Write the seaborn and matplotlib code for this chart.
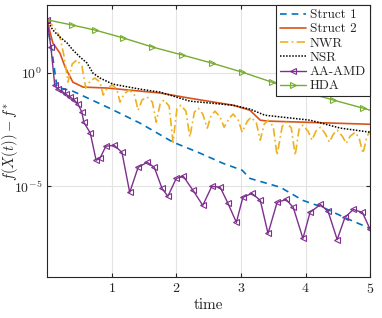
import numpy as np
import pandas as pd
import seaborn as sns
import matplotlib
matplotlib.use("Agg")
import matplotlib.pyplot as plt

# values (exponents of f(X(t)) - f*)
t_s1 = [0, 0.08, 0.155, 0.40, 0.93, 1.44, 1.95, 2.34, 2.72, 3.02, 3.14, 3.61, 3.96, 4.27, 4.64, 5.0]
e_s1 = [2.26, 0.88, -0.62, -0.80, -1.50, -2.21, -3.05, -3.50, -3.98, -4.29, -4.65, -5.04, -5.62, -5.93, -6.42, -6.86]

t_s2 = [0, 0.09, 0.20, 0.28, 0.40, 0.56, 0.93, 1.75, 2.21, 2.88, 3.14, 3.30, 3.42, 5.0]
e_s2 = [2.35, 1.33, 0.88, 0.27, -0.40, -0.62, -0.66, -0.88, -1.11, -1.42, -1.64, -2.08, -2.12, -2.26]

t_nwr = [0, 0.12, 0.20, 0.26, 0.325, 0.39, 0.46, 0.54, 0.60, 0.67, 0.74, 0.82, 0.87, 0.93,
         1.01, 1.08, 1.13, 1.19, 1.27, 1.35, 1.41, 1.47, 1.55, 1.63, 1.69, 1.75, 1.81, 1.89,
         1.95, 2.01, 2.07, 2.15, 2.21, 2.28, 2.34, 2.41, 2.48, 2.54, 2.60, 2.68, 2.74, 2.82,
         2.88, 2.96, 3.02, 3.10, 3.16, 3.24, 3.30, 3.36, 3.42, 3.50, 3.56, 3.64, 3.70, 3.78,
         3.84, 3.90, 3.96, 4.04, 4.10, 4.16, 4.23, 4.30, 4.37, 4.43, 4.49, 4.57, 4.63, 4.69,
         4.77, 4.83, 4.89, 4.95, 5.0]
e_nwr = [2.35, 1.99, 1.59, 0.80, -0.40, 0.40, 0.58, 0.31, -0.66, -0.35, -0.22, -0.40, -0.97, -0.66,
         -0.53, -0.71, -1.28, -0.93, -0.75, -0.93, -1.64, -1.19, -1.06, -1.28, -2.17, -1.37, -1.19, -1.46,
         -3.05, -1.59, -1.42, -1.68, -2.83, -1.73, -1.55, -1.81, -2.43, -1.86, -1.68, -1.95, -2.39, -1.99,
         -1.81, -2.08, -2.61, -2.12, -1.95, -2.21, -2.96, -2.26, -2.08, -2.35, -3.63, -2.35, -2.17, -2.43,
         -3.63, -2.48, -2.30, -2.57, -2.96, -2.57, -2.39, -2.65, -3.05, -2.70, -2.52, -2.79, -3.10, -2.79,
         -2.61, -2.88, -3.54, -2.79, -2.57]

t_nsr = [0, 0.09, 0.20, 0.31, 0.40, 0.51, 0.62, 0.71, 0.82, 1.02, 1.44, 1.75, 2.21, 2.88, 3.14, 3.37, 4.07, 4.54, 5.0]
e_nsr = [2.35, 1.90, 1.59, 1.33, 1.02, 0.71, 0.44, 0.0, -0.22, -0.49, -0.71, -0.84, -1.24, -1.42, -1.59, -1.86, -2.08, -2.43, -2.61]

t_aa = [0, 0.06, 0.12, 0.17, 0.23, 0.29, 0.36, 0.42, 0.48, 0.54, 0.57, 0.67, 0.76, 0.82, 0.91,
        1.04, 1.16, 1.28, 1.41, 1.55, 1.66, 1.78, 1.87, 2.0, 2.11, 2.26, 2.41, 2.55, 2.68, 2.80,
        2.93, 3.03, 3.17, 3.30, 3.42, 3.56, 3.70, 3.81, 3.96, 4.07, 4.23, 4.35, 4.49, 4.61, 4.74,
        4.88, 5.0]
e_aa = [2.35, 1.15, -0.53, -0.71, -0.80, -0.93, -1.06, -1.19, -1.37, -1.73, -2.17, -2.65, -3.85, -3.76, -3.23,
        -3.19, -3.50, -5.27, -4.16, -3.94, -4.16, -5.09, -5.44, -4.65, -4.56, -5.18, -5.84, -5.0, -5.04, -5.75,
        -6.59, -5.49, -5.31, -5.62, -7.08, -5.71, -5.58, -5.93, -7.30, -6.15, -5.80, -6.11, -7.35, -6.37, -6.02,
        -6.15, -6.90]

t_hda = [0, 0.39, 0.74, 1.18, 1.63, 2.09, 2.55, 3.02, 3.48, 3.95, 4.43, 4.89, 5.0]
e_hda = [2.35, 2.12, 1.90, 1.55, 1.15, 0.80, 0.44, 0.04, -0.40, -0.80, -1.19, -1.55, -1.64]

sns.set_style("ticks")
plt.rcParams["font.family"] = ["cmr10", "DejaVu Serif"]
plt.rcParams["mathtext.fontset"] = "cm"
plt.rcParams["axes.unicode_minus"] = False
plt.rcParams["axes.formatter.use_mathtext"] = True

fig = plt.figure(figsize=(3.82, 3.18), dpi=100)
ax = fig.add_axes([0.123, 0.129, 0.846, 0.855])

series = [
    ("Struct 1", t_s1, e_s1, dict(color="#0072BD", linestyle=(0, (4, 3)), linewidth=1.2)),
    ("Struct 2", t_s2, e_s2, dict(color="#D95319", linestyle="-", linewidth=1.2)),
    ("NWR", t_nwr, e_nwr, dict(color="#EDB120", linestyle=(0, (5, 2, 1, 2)), linewidth=1.2)),
    ("NSR", t_nsr, e_nsr, dict(color="black", linestyle=(0, (1, 1)), linewidth=1.1)),
    ("AA-AMD", t_aa, e_aa, dict(color="#7E2F8E", linestyle="-", linewidth=1.0, marker="<", markersize=4.5,
                                markerfacecolor="none", markeredgecolor="#7E2F8E", markeredgewidth=0.8)),
    ("HDA", t_hda, e_hda, dict(color="#77AC30", linestyle="-", linewidth=1.0, marker=">", markersize=4.5,
                               markerfacecolor="none", markeredgecolor="#77AC30", markeredgewidth=0.8,
                               markevery=slice(0, -1))),
]

for name, t, e, kw in series:
    df = pd.DataFrame({"time": t, "gap": 10.0 ** np.array(e)})
    sns.lineplot(data=df, x="time", y="gap", ax=ax, label=name, estimator=None,
                 sort=False, **kw)

ax.set_yscale("log")
ax.set_xlim(0, 5)
ax.set_ylim(1e-9, 1e3)
ax.set_xticks([1, 2, 3, 4, 5])
ax.set_yticks([1e0, 1e-5])
ax.yaxis.set_minor_locator(matplotlib.ticker.NullLocator())
ax.grid(True, color="#e3e3e3", linewidth=0.8)
ax.tick_params(direction="in", top=True, right=True, labelsize=10, length=3, color="#262626")
for s in ax.spines.values():
    s.set_color("#262626")
    s.set_linewidth(0.8)
ax.set_xlabel("time", fontsize=11, labelpad=2)
ax.set_ylabel(r"$f(X(t))-f^{*}$", fontsize=10.5)
ax.yaxis.set_label_coords(-0.085, 0.5)

leg = ax.legend(loc="upper right", fontsize=9.5, frameon=True, fancybox=False,
                edgecolor="#262626", framealpha=1, borderaxespad=0, handlelength=2.0,
                labelspacing=0.15, handletextpad=0.3, borderpad=0.3)
leg.get_frame().set_linewidth(0.8)

fig.savefig("out.png", dpi=100)
